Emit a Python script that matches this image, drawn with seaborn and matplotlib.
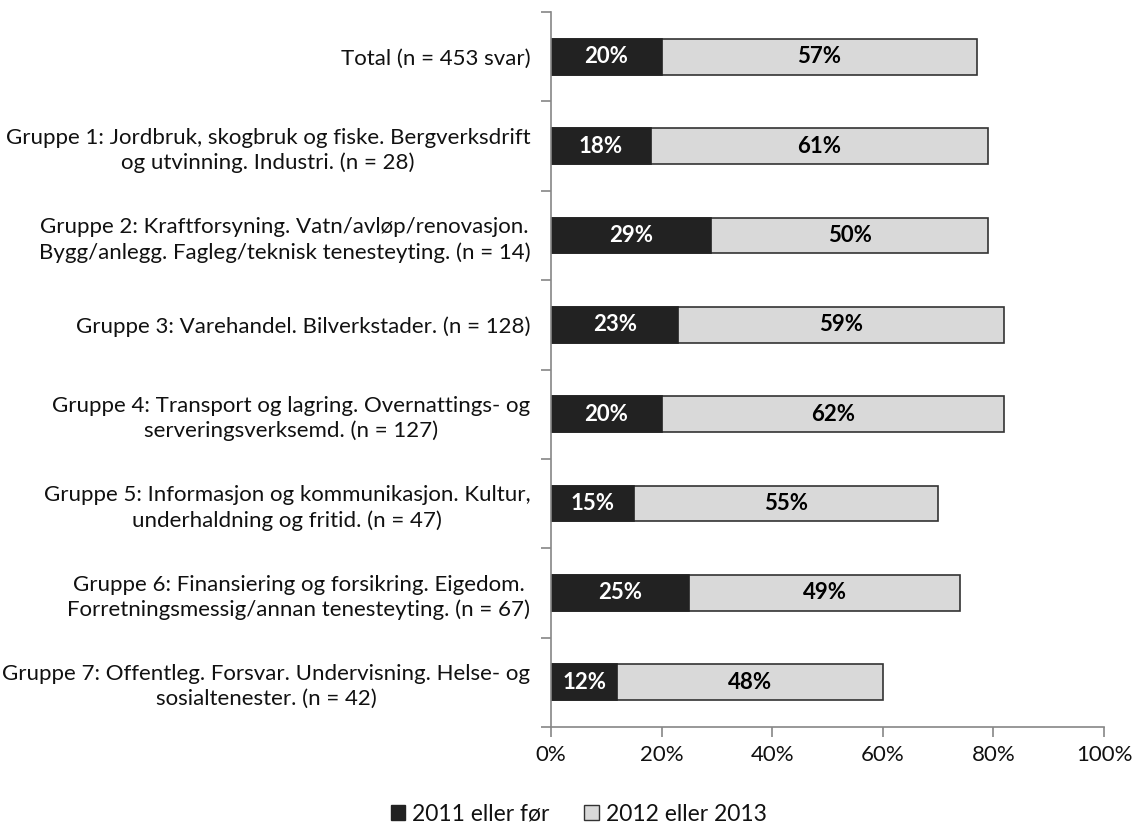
import matplotlib
matplotlib.use("Agg")
import matplotlib.pyplot as plt
from matplotlib.patches import Patch
from matplotlib.ticker import FixedLocator, PercentFormatter
import numpy as np
import pandas as pd
import seaborn as sns

categories = [
    "Total (n = 453 svar)",
    "Gruppe 1: Jordbruk, skogbruk og fiske. Bergverksdrift\nog utvinning. Industri. (n = 28)",
    "Gruppe 2: Kraftforsyning. Vatn/avløp/renovasjon.\nBygg/anlegg. Fagleg/teknisk tenesteyting. (n = 14)",
    "Gruppe 3: Varehandel. Bilverkstader. (n = 128)",
    "Gruppe 4: Transport og lagring. Overnattings- og\nserveringsverksemd. (n = 127)",
    "Gruppe 5: Informasjon og kommunikasjon. Kultur,\nunderhaldning og fritid. (n = 47)",
    "Gruppe 6: Finansiering og forsikring. Eigedom.\nForretningsmessig/annan tenesteyting. (n = 67)",
    "Gruppe 7: Offentleg. Forsvar. Undervisning. Helse- og\nsosialtenester. (n = 42)",
]
y2011_or_earlier = [20, 18, 29, 23, 20, 15, 25, 12]
y2012_or_2013 = [57, 61, 50, 59, 62, 55, 49, 48]
series_names = ["2011 eller før", "2012 eller 2013"]
x_ticks = [0, 20, 40, 60, 80, 100]

dark = "#222222"
light = "#d9d9d9"
axis_grey = "#868686"

sns.set_theme(style="white")
plt.rcParams["font.family"] = ["Lato", "DejaVu Sans"]
plt.rcParams["text.color"] = "#111111"

df = pd.DataFrame({
    "kategori": categories,
    "early": y2011_or_earlier,
    "late": y2012_or_2013,
})
df["total"] = df["early"] + df["late"]

fig = plt.figure(figsize=(11.39, 8.27), dpi=100)
ax = fig.add_axes([0.4838, 0.1209, 0.4855, 0.8646])

bar_w = 0.40
sns.barplot(data=df, y="kategori", x="total", orient="h", color=light,
            saturation=1, width=bar_w, edgecolor="#333333", linewidth=1.2, ax=ax)
sns.barplot(data=df, y="kategori", x="early", orient="h", color=dark,
            saturation=1, width=bar_w, edgecolor=dark, linewidth=1.2, ax=ax)

for i, (a, b) in enumerate(zip(df["early"], df["late"])):
    ax.text(a / 2, i, f"{a}%", ha="center", va="center", color="white",
            fontsize=16, fontweight="bold")
    ax.text(a + b / 2, i, f"{b}%", ha="center", va="center", color="black",
            fontsize=16, fontweight="bold")

n = len(categories)
ax.set_xlim(0, 100)
ax.set_ylim(n - 0.5, -0.5)
ax.xaxis.set_major_locator(FixedLocator(x_ticks))
ax.xaxis.set_major_formatter(PercentFormatter(decimals=0))
ax.set_xlabel("")
ax.set_ylabel("")

# category labels without tick lines, separators as minor ticks
ax.set_yticks(np.arange(n))
ax.set_yticklabels(df["kategori"], multialignment="center", linespacing=1.3)
ax.yaxis.set_minor_locator(FixedLocator(np.arange(-0.5, n, 1.0)))
ax.tick_params(axis="y", which="major", length=0, pad=15, labelsize=16,
               labelcolor="#111111")
ax.tick_params(axis="y", which="minor", length=7, width=1.2, color=axis_grey,
               direction="out", left=True)
ax.tick_params(axis="x", which="major", length=7, width=1.2, color=axis_grey,
               direction="out", bottom=True, labelsize=16, pad=6,
               labelcolor="#111111")

for side in ["top", "right"]:
    ax.spines[side].set_visible(False)
for side in ["left", "bottom"]:
    ax.spines[side].set_color(axis_grey)
    ax.spines[side].set_linewidth(1.2)

handles = [
    Patch(facecolor=dark, edgecolor=dark, label=series_names[0]),
    Patch(facecolor=light, edgecolor="#333333", label=series_names[1]),
]
fig.legend(handles=handles, loc="center", bbox_to_anchor=(0.508, 0.0155),
           ncol=2, frameon=False, fontsize=16.5, handlelength=0.65,
           handleheight=0.65, handletextpad=0.3, columnspacing=1.5)

fig.savefig("out.png", dpi=100)
